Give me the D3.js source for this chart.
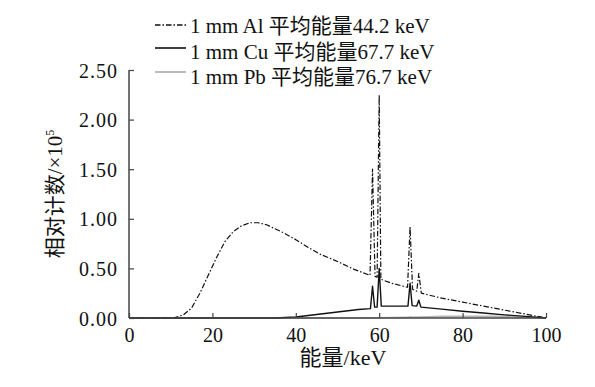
<!DOCTYPE html>
<html><head><meta charset="utf-8">
<script src="https://cdn.jsdelivr.net/npm/d3@7"></script>
<style>body{margin:0;background:#fff}svg{display:block}</style>
</head><body>
<svg id="c" width="595" height="387"></svg>
<script>
// ---- data ----
const xTicks = [0, 20, 40, 60, 80, 100];
const yTicks = [0, 0.5, 1.0, 1.5, 2.0, 2.5];
const seriesNames = ["1 mm Al 平均能量44.2 keV", "1 mm Cu 平均能量67.7 keV", "1 mm Pb 平均能量76.7 keV"];
const alEnergy = [0, 9, 11, 13, 15, 17, 19, 21, 23, 25, 27, 29, 31, 33, 35, 37, 40, 43, 46, 50, 54, 57.8, 58.4, 59.0, 59.5, 60.0, 60.4, 63, 66.8, 67.4, 68, 69, 69.5, 70.1, 75, 80, 85, 90, 95, 100];
const alCount  = [0, 0, 0.005, 0.03, 0.1, 0.25, 0.43, 0.61, 0.77, 0.87, 0.93, 0.96, 0.96, 0.94, 0.9, 0.86, 0.79, 0.71, 0.64, 0.57, 0.49, 0.43, 1.5, 0.42, 0.41, 2.25, 0.39, 0.35, 0.31, 0.92, 0.29, 0.27, 0.45, 0.25, 0.2, 0.16, 0.12, 0.08, 0.04, 0];
const cuEnergy = [0, 35, 40, 45, 50, 55, 57.9, 58.4, 58.9, 59.5, 60.0, 60.5, 63, 66.9, 67.4, 67.9, 69, 69.5, 70, 75, 80, 85, 90, 95, 100];
const cuCount  = [0, 0, 0.01, 0.035, 0.06, 0.085, 0.095, 0.32, 0.11, 0.11, 0.5, 0.12, 0.12, 0.12, 0.35, 0.125, 0.12, 0.18, 0.11, 0.09, 0.068, 0.05, 0.032, 0.016, 0];
const pbEnergy = [0, 55, 60, 67, 67.4, 67.8, 72, 75, 88, 95, 100];
const pbCount  = [0, 0, 0.003, 0.006, 0.012, 0.007, 0.012, 0.016, 0.016, 0.006, 0];

// ---- layout ----
const svg = d3.select("#c");
const L = 129, R = 546, T = 70, B = 318;
const x = d3.scaleLinear().domain([0, 100]).range([L, R]);
const y = d3.scaleLinear().domain([0, 2.5]).range([B, T]);
const serif = "'Liberation Serif','Times New Roman',serif";
const cjk = "'Liberation Serif','Noto Sans CJK SC',serif";

const line = d3.line().x(d => x(d[0])).y(d => y(d[1]));
const zip = (a, b) => a.map((v, i) => [v, b[i]]);

const styles = [
  {stroke: "#111", width: 1.2, dash: "5.5,2,1.5,2"},
  {stroke: "#111", width: 1.4, dash: null},
  {stroke: "#b4b4b4", width: 1.6, dash: null}
];
const data = [zip(pbEnergy, pbCount), zip(cuEnergy, cuCount), zip(alEnergy, alCount)];
const order = [2, 1, 0];

// lines
order.forEach((si, k) => {
  const st = styles[si];
  svg.append("path").datum(data[k])
    .attr("d", line).attr("fill", "none")
    .attr("stroke", st.stroke).attr("stroke-width", st.width)
    .attr("stroke-linejoin", "round")
    .attr("stroke-dasharray", st.dash);
});

// axes
const axColor = "#444";
const gx = svg.append("g").attr("transform", `translate(0,${B})`)
  .call(d3.axisBottom(x).tickValues(xTicks).tickSize(-5).tickPadding(10).tickFormat(d3.format("d")));
const gy = svg.append("g").attr("transform", `translate(${L},0)`)
  .call(d3.axisLeft(y).tickValues(yTicks).tickSize(-5).tickPadding(11).tickFormat(d3.format(".2f")));
[gx, gy].forEach(g => {
  g.select(".domain").attr("stroke", axColor).attr("stroke-width", 1.5)
    .attr("d", g === gx ? `M${L},0H${R}` : `M0,${B}V${T}`);
  g.selectAll(".tick line").attr("stroke", axColor).attr("stroke-width", 1.2);
  g.selectAll(".tick text").attr("fill", "#111").attr("font-family", serif).attr("font-size", 20);
});
gy.selectAll(".tick text").attr("letter-spacing", 1).attr("dy", "0.35em");
gx.selectAll(".tick text").attr("dy", "0.71em");

// axis titles
svg.append("text").attr("x", 343).attr("y", 365).attr("text-anchor", "middle")
  .attr("font-family", cjk).attr("font-size", 22).attr("fill", "#111").text("能量/keV");
const yt = svg.append("text").attr("transform", "translate(62,194) rotate(-90)")
  .attr("text-anchor", "middle").attr("font-family", cjk).attr("font-size", 21).attr("fill", "#111");
yt.append("tspan").text("相对计数/×10");
yt.append("tspan").attr("font-size", 12).attr("dy", -8).text("5");

// legend
const legLineY = [25, 48, 72];
const legTextY = [33, 59, 84];
seriesNames.forEach((name, i) => {
  const st = styles[i];
  svg.append("line").attr("x1", 155).attr("x2", 186).attr("y1", legLineY[i]).attr("y2", legLineY[i])
    .attr("stroke", st.stroke).attr("stroke-width", st.width + 0.2).attr("stroke-dasharray", st.dash);
  svg.append("text").attr("x", 190).attr("y", legTextY[i])
    .attr("font-family", cjk).attr("font-size", 21).attr("fill", "#111").text(name);
});
</script>
</body></html>
